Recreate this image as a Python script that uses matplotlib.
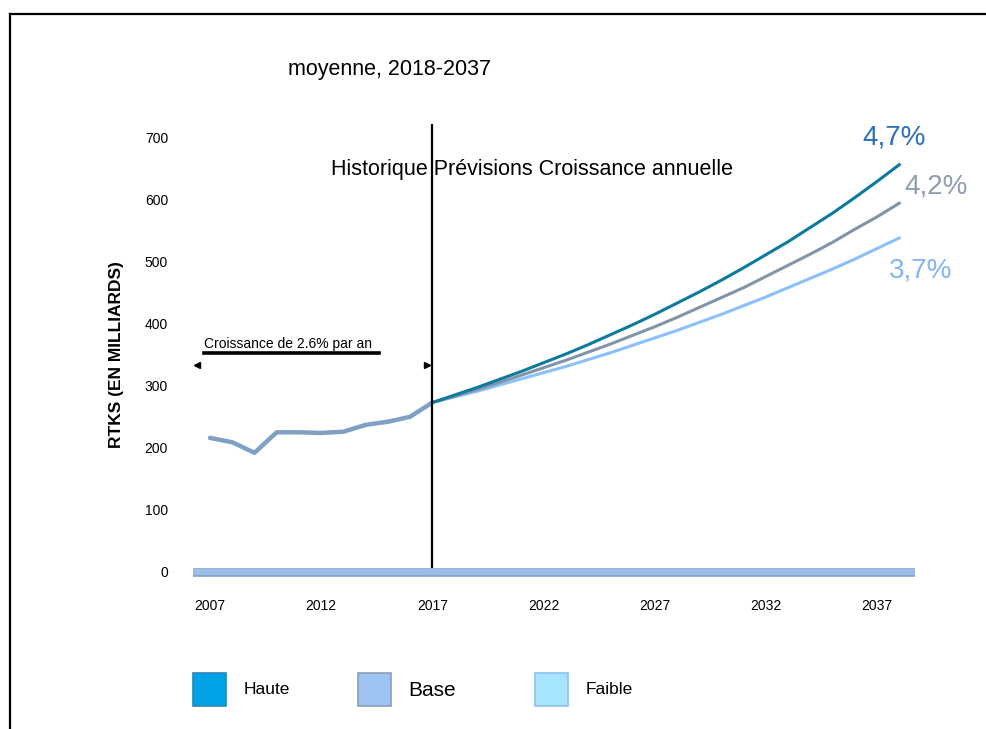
import matplotlib
matplotlib.use("Agg")
import matplotlib.pyplot as plt
from matplotlib.lines import Line2D
from matplotlib.patches import Rectangle

plt.rcParams['font.family'] = ['Liberation Sans', 'DejaVu Sans']

# ---- data ----
hist_years = [2007, 2008, 2009, 2010, 2011, 2012, 2013, 2014, 2015, 2016, 2017]
hist_values = [216, 209, 192, 225, 225, 224, 226, 237, 242, 250, 273]

fc_years = list(range(2017, 2039))
haute = [273, 285, 297, 310, 323, 337, 351, 366, 382, 398, 415, 433, 451, 470, 490, 511, 532, 555, 578, 603, 629, 656]
base = [273, 283, 294, 305, 317, 329, 341, 354, 367, 381, 395, 410, 426, 442, 458, 476, 494, 512, 531, 552, 572, 594]
faible = [273, 282, 291, 301, 311, 321, 331, 342, 353, 365, 377, 389, 402, 415, 429, 443, 458, 473, 488, 504, 521, 538]

x_ticks = [2007, 2012, 2017, 2022, 2027, 2032, 2037]
y_ticks = [0, 100, 200, 300, 400, 500, 600, 700]
growth_labels = ["4,7%", "4,2%", "3,7%"]
legend_labels = ["Haute", "Base", "Faible"]
split_year = 2017

c_haute = '#0c7a9c'
c_base = '#8294a8'
c_faible = '#8cc0fa'
c_hist = '#7fa0c2'

fig = plt.figure(figsize=(9.86, 7.29), dpi=100)
ax = fig.add_axes([193/986, 1-580/729, 722/986, 455/729])
ax.set_xlim(2007 - 17/22.23, 2037 + 38/22.23)
ax.set_ylim(-12.9, 720)
for s in ax.spines.values():
    s.set_visible(False)

# baseline bar
ax.axhline(0, color='#7f9fc8', lw=6.2, zorder=1)
ax.axhline(0, color='#9cbde8', lw=4.6, zorder=1.1)

# lines
ax.plot(hist_years, hist_values, color=c_hist, lw=3.2, solid_capstyle='round', zorder=3)
ax.plot(fc_years, faible, color=c_faible, lw=2.2, zorder=3)
ax.plot(fc_years, base, color=c_base, lw=2.2, zorder=3.1)
ax.plot(fc_years, haute, color=c_haute, lw=2.2, zorder=3.2)

# vertical split line
ax.plot([split_year, split_year], [8, 720], color='black', lw=1.6, zorder=4, clip_on=False)

ax.set_xticks(x_ticks)
ax.set_xticklabels([str(v) for v in x_ticks])
ax.set_yticks(y_ticks)
ax.set_yticklabels([str(v) for v in y_ticks])
ax.tick_params(axis='both', length=0, labelsize=10)
ax.tick_params(axis='x', pad=14)
ax.tick_params(axis='y', pad=18)

# growth labels
ax.text(2039.2, 700, growth_labels[0], color='#2b6fb5', fontsize=20, ha='right', va='center')
ax.text(2041.1, 621, growth_labels[1], color='#8e9cb0', fontsize=20, ha='right', va='center')
ax.text(2040.4, 486, growth_labels[2], color='#84b4f2', fontsize=20, ha='right', va='center')

# annotation
ax.text(2006.75, 361, "Croissance de 2.6% par an", fontsize=10, ha='left', va='baseline')
ax.plot([2006.75, 2014.6], [352, 352], color='black', lw=2.6, zorder=4)
ax.plot([2006.4], [334], marker='<', color='black', markersize=4)
ax.plot([2016.75], [334], marker='>', color='black', markersize=4)

# section header
fig.text(532/986, 1-170/729, "Historique Prévisions Croissance annuelle", fontsize=15.5,
         ha='center', va='center')
fig.text(390/986, 1-70/729, "moyenne, 2018-2037", fontsize=15.5, ha='center', va='center')

# y label
fig.text(117/986, 1-355/729, "RTKS (EN MILLIARDS)", rotation=90, fontsize=12.5,
         fontweight='bold', ha='center', va='center')

# legend
leg = [
    (193, '#00a3e8', '#2a86b8', legend_labels[0], 244, 12.5),
    (358, '#9dc3f0', '#8aa0b8', legend_labels[1], 408, 15),
    (535, '#a6e4ff', '#8cc0f0', legend_labels[2], 586, 12.5),
]
for x0, fc, ec, lab, tx, fs in leg:
    fig.patches.append(Rectangle((x0/986, 1-706/729), 33/986, 33/729, transform=fig.transFigure,
                                 facecolor=fc, edgecolor=ec, lw=1.2))
    fig.text(tx/986, 1-690/729, lab, fontsize=fs, ha='left', va='center')

# frame lines
fig.add_artist(Line2D([10/986, 1.0], [1-14/729, 1-14/729], transform=fig.transFigure,
                      color='black', lw=1.6))
fig.add_artist(Line2D([10/986, 10/986], [1-14/729, 0], transform=fig.transFigure,
                      color='black', lw=1.6))

fig.savefig('out.png', dpi=100)
